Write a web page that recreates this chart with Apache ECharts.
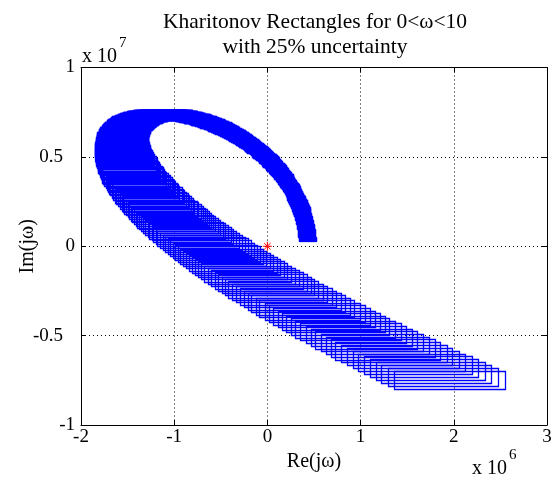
<!DOCTYPE html>
<html><head><meta charset="utf-8">
<script src="https://cdn.jsdelivr.net/npm/echarts@6/dist/echarts.min.js"></script>
<style>html,body{margin:0;padding:0;background:#fff}#c{width:556px;height:482px}</style>
</head><body><div id="c"></div>
<script>
// Kharitonov rectangles, one per frequency sample (values in units of 1e4)
// rectRe / rectIm: rectangle centre (real, imaginary); rectW / rectH: rectangle width / height
var rectRe = [
43,43,43,43,42,42,42,42,42,42,42,42,41,41,41,41,41,40,40,40,40,39,39,39,39,38,38,38,37,37,37,36,
36,36,35,35,34,34,33,33,33,32,32,31,31,30,30,29,29,28,28,27,27,26,26,25,24,24,23,23,22,21,21,20,
19,19,18,17,17,16,15,15,14,13,12,12,11,10,9,9,8,7,6,5,5,4,3,2,1,1,0,-1,-2,-3,-4,-5,
-6,-6,-7,-8,-9,-10,-11,-12,-13,-14,-15,-16,-17,-18,-19,-20,-21,-22,-23,-24,-25,-26,-27,-28,-29,-30,-31,-32,-33,-34,-35,-36,
-37,-38,-39,-40,-41,-43,-44,-45,-46,-47,-48,-49,-50,-51,-52,-53,-55,-56,-57,-58,-59,-60,-61,-62,-64,-65,-66,-67,-68,-69,-70,-71,
-73,-74,-75,-76,-77,-78,-79,-80,-82,-83,-84,-85,-86,-87,-88,-89,-91,-92,-93,-94,-95,-96,-97,-98,-99,-100,-102,-103,-104,-105,-106,-107,
-108,-109,-110,-111,-112,-113,-114,-115,-116,-117,-118,-119,-120,-121,-122,-123,-124,-125,-126,-127,-128,-128,-129,-130,-131,-132,-133,-134,-134,-135,-136,-137,
-138,-139,-139,-140,-141,-141,-142,-143,-144,-144,-145,-145,-146,-147,-147,-148,-149,-149,-149,-150,-150,-151,-151,-152,-152,-153,-153,-153,-154,-154,-154,-155,
-155,-155,-155,-156,-156,-156,-156,-156,-156,-156,-156,-156,-156,-156,-156,-156,-156,-156,-156,-155,-155,-155,-155,-154,-154,-154,-153,-153,-152,-152,-151,-151,
-150,-150,-149,-148,-148,-147,-146,-145,-145,-144,-143,-142,-140,-139,-138,-137,-136,-135,-134,-132,-131,-130,-128,-127,-126,-124,-122,-121,-119,-117,-116,-114,
-112,-110,-108,-106,-104,-102,-100,-98,-96,-93,-91,-88,-86,-83,-81,-78,-76,-73,-70,-67,-64,-61,-58,-55,-52,-49,-46,-42,-39,-35,-32,-28,
-25,-21,-17,-13,-9,-5,-1,2,6,11,15,20,24,29,33,38,42,48,53,58,63,68,73,78,83,89,95,101,106,112,118,124,
129,136,142,149,155,162,168,175,181,188,195
];
var rectIm = [
33,39,44,50,55,61,67,72,78,83,89,94,100,105,111,116,122,127,133,138,144,149,154,160,165,171,176,182,187,192,198,203,
209,214,219,224,230,235,240,246,251,256,261,267,272,277,282,287,293,298,303,308,313,318,323,328,333,338,343,348,353,358,363,368,
373,378,383,387,392,397,402,406,411,416,421,425,430,434,439,444,448,453,457,462,466,470,475,479,484,488,492,496,501,505,509,513,
517,521,525,529,533,537,541,545,549,553,557,561,564,568,572,576,579,583,586,590,593,597,600,604,607,610,614,617,620,623,626,630,
633,636,639,641,644,647,650,653,656,659,661,664,666,669,672,674,677,679,681,683,686,688,690,692,695,697,699,700,702,704,706,708,
710,711,713,715,716,718,719,721,722,723,724,726,727,728,729,730,731,732,733,734,734,735,736,737,737,738,738,738,739,739,739,739,
740,740,740,739,739,739,739,739,739,738,738,737,736,736,735,735,734,733,732,731,730,729,728,727,726,724,723,721,719,718,716,715,
713,711,709,707,705,703,701,699,697,694,692,689,686,684,681,679,676,673,670,666,663,660,657,654,651,647,643,640,636,632,629,625,
621,617,613,608,604,600,595,591,587,582,577,572,567,562,557,552,548,542,537,531,526,520,515,509,503,497,491,485,479,473,467,460,
454,447,441,434,427,420,413,407,400,392,385,377,370,362,355,348,340,332,324,316,307,299,291,283,275,266,257,248,239,230,221,213,
204,194,184,175,165,156,146,136,127,117,106,96,85,75,65,54,44,33,22,11,0,-11,-23,-34,-45,-57,-69,-80,-92,-104,-116,-128,
-140,-153,-165,-178,-191,-203,-216,-229,-241,-255,-268,-282,-295,-309,-322,-336,-349,-364,-378,-392,-407,-421,-435,-450,-464,-479,-494,-509,-525,-540,-555,-570,
-585,-601,-618,-634,-650,-666,-682,-698,-714,-730,-747
];
var rectW = [
18,18,18,18,18,18,18,18,18,18,18,18,18,18,18,18,18,18,18,18,18,18,18,18,18,18,18,18,18,18,18,19,
19,19,19,19,19,19,19,19,19,19,19,19,19,19,19,19,19,19,19,19,19,19,19,19,19,20,20,20,20,20,20,20,
20,20,20,20,20,20,20,20,20,20,20,21,21,21,21,21,21,21,21,21,21,21,21,21,21,22,22,22,22,22,22,22,
22,22,22,22,22,23,23,23,23,23,23,23,23,23,23,23,24,24,24,24,24,24,24,24,24,25,25,25,25,25,25,25,
25,25,26,26,26,26,26,26,26,26,27,27,27,27,27,27,27,27,28,28,28,28,28,28,28,29,29,29,29,29,29,29,
30,30,30,30,30,30,31,31,31,31,31,31,32,32,32,32,32,32,33,33,33,33,33,34,34,34,34,34,34,35,35,35,
35,35,36,36,36,36,36,37,37,37,37,38,38,38,38,38,39,39,39,39,40,40,40,40,40,41,41,41,41,42,42,42,
42,43,43,43,43,44,44,44,45,45,45,45,46,46,46,46,47,47,47,48,48,48,48,49,49,49,50,50,50,51,51,51,
51,52,52,52,53,53,53,54,54,54,55,55,55,56,56,56,57,57,57,58,58,58,59,59,60,60,60,61,61,61,62,62,
63,63,63,64,64,64,65,65,66,66,66,67,67,68,68,69,69,69,70,70,71,71,72,72,72,73,73,74,74,75,75,76,
76,77,77,78,78,78,79,79,80,80,81,81,82,82,83,83,84,84,85,85,86,87,87,88,88,89,89,90,90,91,91,92,
92,93,94,94,95,95,96,96,97,98,98,99,99,100,101,101,102,102,103,104,104,105,106,106,107,108,108,109,110,110,111,111,
112,113,113,114,115,116,116,117,118,118,119
];
var rectH = [
2,2,2,2,3,3,3,3,4,4,4,4,5,5,5,5,6,6,6,6,7,7,7,7,8,8,8,8,9,9,9,9,
10,10,10,10,11,11,11,11,12,12,12,12,13,13,13,13,14,14,14,14,15,15,15,15,16,16,16,16,17,17,17,17,
18,18,18,18,19,19,19,19,20,20,20,20,21,21,21,21,22,22,22,22,23,23,23,23,24,24,24,24,25,25,25,25,
26,26,26,26,27,27,27,27,28,28,28,28,29,29,29,29,30,30,30,30,31,31,31,31,32,32,32,32,33,33,33,33,
34,34,34,34,35,35,35,35,36,36,36,36,37,37,37,37,38,38,38,38,39,39,39,39,40,40,40,40,41,41,41,41,
42,42,42,42,43,43,43,43,44,44,44,44,45,45,45,45,46,46,46,46,47,47,47,47,48,48,48,48,49,49,49,49,
50,50,50,50,51,51,51,51,52,52,52,52,53,53,53,53,54,54,54,54,55,55,55,55,56,56,56,56,57,57,57,57,
58,58,58,58,59,59,59,59,60,60,60,60,61,61,61,61,62,62,62,62,63,63,63,63,64,64,64,64,65,65,65,65,
66,66,66,66,67,67,67,67,68,68,68,68,69,69,69,69,70,70,70,70,71,71,71,71,72,72,72,72,73,73,73,73,
74,74,74,74,75,75,75,75,76,76,76,76,77,77,77,77,78,78,78,78,79,79,79,79,80,80,80,80,81,81,81,81,
82,82,82,82,83,83,83,83,84,84,84,84,85,85,85,85,86,86,86,86,87,87,87,87,88,88,88,88,89,89,89,89,
90,90,90,90,91,91,91,91,92,92,92,92,93,93,93,93,94,94,94,94,95,95,95,95,96,96,96,96,97,97,97,97,
98,98,98,98,99,99,99,99,100,100,100
];
var unit = 1e4;
var originPoint = [[0, 0]];
var xTicks = [-2e6, -1e6, 0, 1e6, 2e6, 3e6];
var xTickLabels = ['-2', '-1', '0', '1', '2', '3'];
var yTicks = [-1e7, -5e6, 0, 5e6, 1e7];
var yTickLabels = ['-1', '-0.5', '0', '0.5', '1'];
var titleLines = ['Kharitonov Rectangles for 0<ω<10', 'with 25% uncertainty'];

var rects = [];
for (var i = 0; i < rectRe.length; i++) {
  rects.push([(rectRe[i] - rectW[i] / 2) * unit, (rectRe[i] + rectW[i] / 2) * unit,
              (rectIm[i] - rectH[i] / 2) * unit, (rectIm[i] + rectH[i] / 2) * unit]);
}
function labelFor(ticks, labels, v) {
  for (var k = 0; k < ticks.length; k++) if (Math.abs(ticks[k] - v) < 1) return labels[k];
  return '';
}
var font = 'Liberation Serif';
var chart = echarts.init(document.getElementById('c'), null, {renderer: 'canvas'});
var axisCommon = {
  axisLine: {show: true, onZero: false, lineStyle: {color: '#000', width: 1}},
  axisTick: {show: true, inside: true, length: 5, lineStyle: {color: '#000'}}
};
chart.setOption({
  animation: false,
  backgroundColor: '#fff',
  title: {text: titleLines.join('\n'), left: 310, top: 5, textAlign: 'center',
    textStyle: {fontFamily: font, fontSize: 21.5, fontWeight: 'normal', color: '#000', lineHeight: 25}},
  grid: {left: 81, top: 67.5, width: 466, height: 357.5, show: false},
  xAxis: [
    Object.assign({type: 'value', min: -2e6, max: 3e6, interval: 1e6, position: 'bottom',
      axisLabel: {formatter: function (v) { return labelFor(xTicks, xTickLabels, v); },
        fontFamily: font, fontSize: 19, color: '#000', margin: 3},
      splitLine: {show: true, lineStyle: {color: '#000', type: [1, 3], width: 1}},
      name: 'Re(jω)', nameLocation: 'middle', nameGap: 27, nameMoveOverlap: false,
      nameTextStyle: {fontFamily: font, fontSize: 20, color: '#000', verticalAlign: 'top'}}, axisCommon),
    Object.assign({type: 'value', min: -2e6, max: 3e6, interval: 1e6, position: 'top',
      axisLabel: {show: false}, splitLine: {show: false}}, axisCommon)
  ],
  yAxis: [
    Object.assign({type: 'value', min: -1e7, max: 1e7, interval: 5e6, position: 'left',
      axisLabel: {formatter: function (v) {
          var s = labelFor(yTicks, yTickLabels, v);
          return s.indexOf('.') >= 0 ? '{d|' + s + '}' : '{n|' + s + '}';
        }, margin: 6,
        rich: {d: {fontFamily: font, fontSize: 19, color: '#000', padding: [0, 12, 0, 0]},
               n: {fontFamily: font, fontSize: 19, color: '#000'}}},
      splitLine: {show: true, lineStyle: {color: '#000', type: [1, 3], width: 1}},
      name: 'Im(jω)', nameLocation: 'middle', nameGap: 53, nameMoveOverlap: false,
      nameTextStyle: {fontFamily: font, fontSize: 20, color: '#000', verticalAlign: 'middle'}}, axisCommon),
    Object.assign({type: 'value', min: -1e7, max: 1e7, interval: 5e6, position: 'right',
      axisLabel: {show: false}, splitLine: {show: false}}, axisCommon)
  ],
  graphic: [
    {type: 'text', left: 82, top: 47, style: {text: 'x 10', font: '20px "Liberation Serif"', fill: '#000'}},
    {type: 'text', left: 119, top: 36, style: {text: '7', font: '15px "Liberation Serif"', fill: '#000'}},
    {type: 'text', left: 472, top: 459, style: {text: 'x 10', font: '20px "Liberation Serif"', fill: '#000'}},
    {type: 'text', left: 509, top: 448, style: {text: '6', font: '15px "Liberation Serif"', fill: '#000'}}
  ],
  series: [{
    type: 'custom', coordinateSystem: 'cartesian2d', xAxisIndex: 0, yAxisIndex: 0,
    data: rects, encode: {x: [0, 1], y: [2, 3]}, progressive: 0, z: 2,
    renderItem: function (params, api) {
      var p1 = api.coord([api.value(0), api.value(3)]);
      var p2 = api.coord([api.value(1), api.value(2)]);
      var x1 = Math.round(p1[0]), y1 = Math.round(p1[1]);
      var x2 = Math.round(p2[0]), y2 = Math.round(p2[1]);
      return {type: 'rect', shape: {x: x1 + 0.5, y: y1 + 0.5, width: Math.max(x2 - x1, 1), height: Math.max(y2 - y1, 1)},
        style: {fill: null, stroke: '#0000ff', lineWidth: 1.3}};
    }
  }, {
    type: 'custom', coordinateSystem: 'cartesian2d', xAxisIndex: 0, yAxisIndex: 0,
    data: originPoint, encode: {x: 0, y: 1}, z: 3,
    renderItem: function (params, api) {
      var c = api.coord([api.value(0), api.value(1)]);
      var r = 4.5, d = 3.2;
      var st = {stroke: '#ff0000', lineWidth: 1};
      return {type: 'group', children: [
        {type: 'line', shape: {x1: c[0] - r, y1: c[1], x2: c[0] + r, y2: c[1]}, style: st},
        {type: 'line', shape: {x1: c[0], y1: c[1] - r, x2: c[0], y2: c[1] + r}, style: st},
        {type: 'line', shape: {x1: c[0] - d, y1: c[1] - d, x2: c[0] + d, y2: c[1] + d}, style: st},
        {type: 'line', shape: {x1: c[0] - d, y1: c[1] + d, x2: c[0] + d, y2: c[1] - d}, style: st}
      ]};
    }
  }]
});
</script></body></html>
